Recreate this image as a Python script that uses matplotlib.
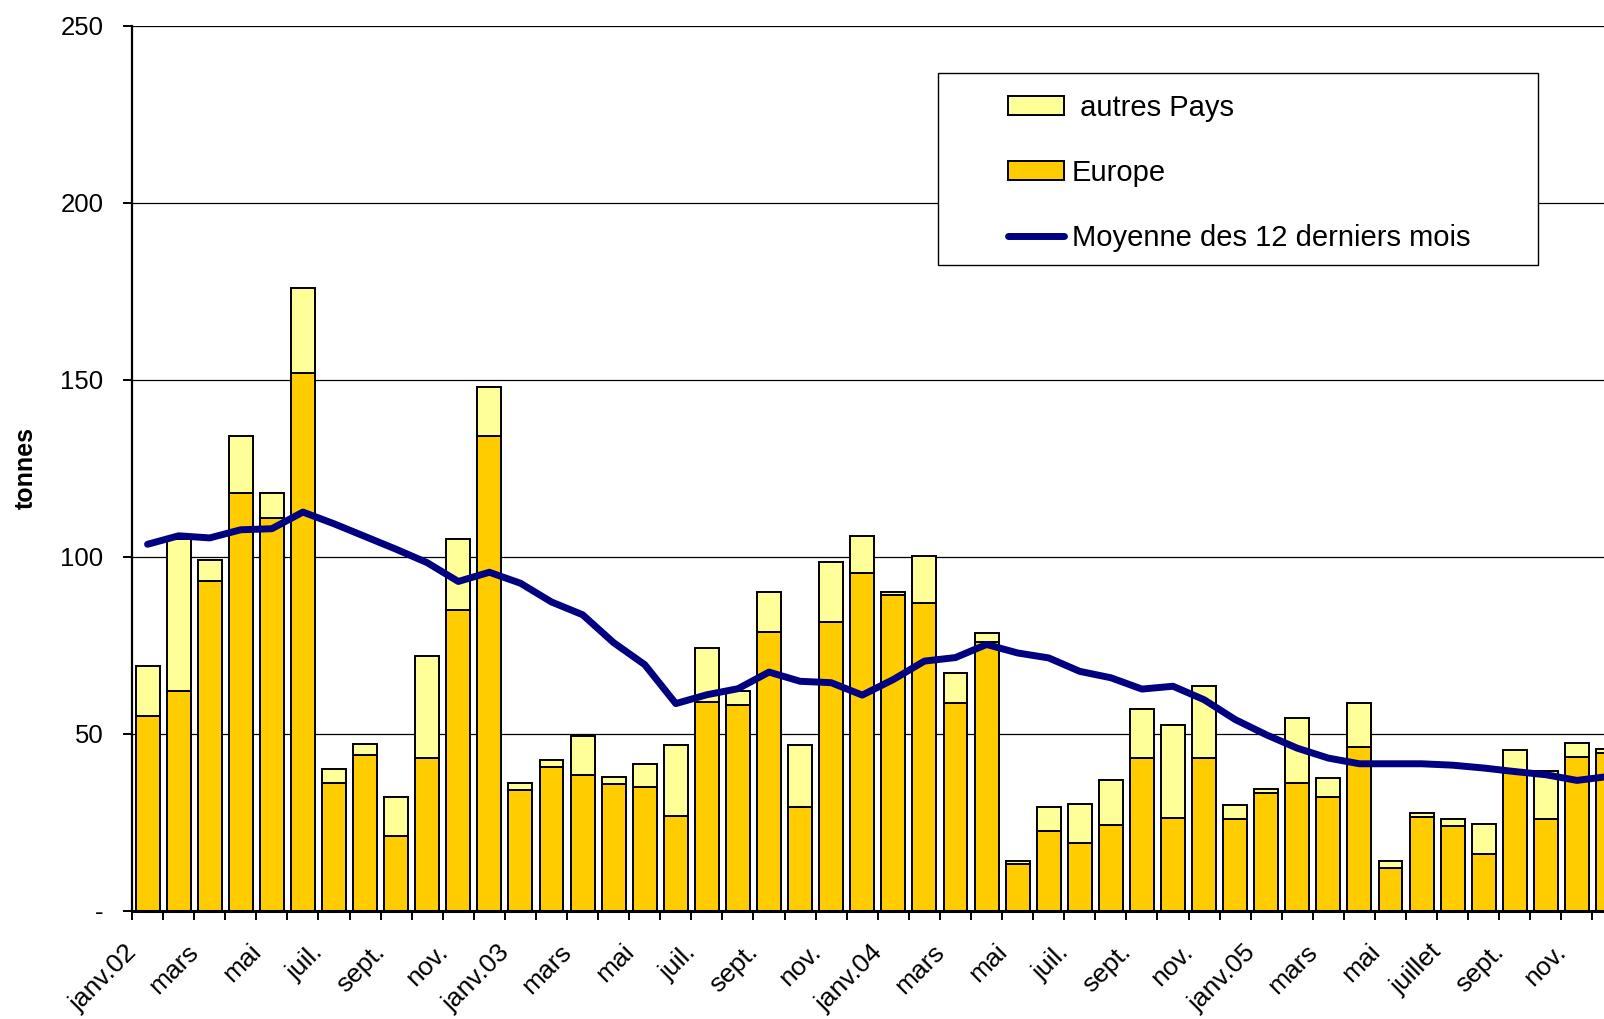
import matplotlib
matplotlib.use("Agg")
import matplotlib.pyplot as plt
from matplotlib.patches import Patch, Rectangle
from matplotlib.lines import Line2D
from matplotlib.transforms import ScaledTranslation
import numpy as np

plt.rcParams['font.family'] = ['Liberation Sans', 'DejaVu Sans']

# monthly imports, janv. 2002 -> dec. 2005 (tonnes)
europe = [55, 62, 93, 118, 111, 152, 36, 44, 21, 43, 85, 134,
          34, 40.7, 38.3, 35.7, 34.8, 26.8, 59, 58.2, 78.7, 29.3, 81.5, 95.4,
          89.3, 86.9, 58.8, 76, 13.3, 22.6, 19.1, 24.1, 43.1, 26.2, 43.1, 25.8,
          33.2, 36, 32.1, 46.1, 12, 26.4, 23.9, 15.9, 39.5, 25.9, 43.4, 44.6]
autres = [14, 43, 6, 16, 7, 24, 4, 3, 11, 29, 20, 14,
          2, 1.8, 11, 2, 6.6, 19.9, 15.2, 3.9, 11.3, 17.6, 16.9, 10.4,
          0.7, 13.2, 8.4, 2.5, 0.6, 6.6, 10.9, 12.7, 14, 26.3, 20.3, 4,
          1.2, 18.4, 5.4, 12.5, 2.1, 1.3, 1.9, 8.5, 6, 13.5, 3.9, 1.1]
moyenne = [103.5, 105.9, 105.3, 107.6, 107.9, 112.6, 109.3, 105.7, 102.1, 98.3, 93.0, 95.6,
           92.5, 87.2, 83.6, 75.7, 69.5, 58.5, 61, 62.7, 67.4, 64.8, 64.4, 60.9,
           65.3, 70.5, 71.5, 75.2, 72.8, 71.4, 67.6, 65.8, 62.6, 63.4, 59.6, 54.0,
           49.7, 45.9, 43.1, 41.5, 41.5, 41.5, 41.1, 40.3, 39.3, 38.4, 36.8, 37.9]
tick_labels = ['janv.02', 'mars', 'mai', 'juil.', 'sept.', 'nov.',
               'janv.03', 'mars', 'mai', 'juil.', 'sept.', 'nov.',
               'janv.04', 'mars', 'mai', 'juil.', 'sept.', 'nov.',
               'janv.05', 'mars', 'mai', 'juillet', 'sept.', 'nov.']
y_ticks = [0, 50, 100, 150, 200, 250]
y_labels = ['-', '50', '100', '150', '200', '250']

c_eur = '#FFCC00'
c_aut = '#FFFF99'
c_line = '#000080'

fig = plt.figure(figsize=(16.04, 10.19), dpi=100)
# plot area runs past the right edge of the picture, like the original
ax = fig.add_axes([0.0823, 0.1063, 0.9299, 0.8685])

x = np.arange(len(europe))
ax.bar(x, europe, width=0.77, color=c_eur, edgecolor='black', linewidth=1.4, zorder=2)
ax.bar(x, autres, width=0.77, bottom=europe, color=c_aut, edgecolor='black', linewidth=1.4, zorder=2)
ax.plot(x, moyenne, color=c_line, linewidth=5, solid_joinstyle='round',
        solid_capstyle='round', zorder=3)

ax.set_xlim(-0.5, len(europe) - 0.5)
ax.set_ylim(0, 250)

for v in y_ticks[1:]:
    ax.axhline(v, color='black', linewidth=0.9, zorder=1)

ax.spines['top'].set_visible(False)
ax.spines['right'].set_visible(False)
ax.spines['left'].set_linewidth(1.6)
ax.spines['bottom'].set_linewidth(2.2)

ax.set_yticks(y_ticks)
ax.set_yticklabels(y_labels, fontsize=18.5)
ax.tick_params(axis='y', direction='out', length=6.5, width=1.4, pad=14)

ax.set_xticks(x[::2])
ax.set_xticklabels(tick_labels, fontsize=19, rotation=45, ha='right', va='top')
ax.set_xticks(np.arange(len(europe) + 1) - 0.5, minor=True)
ax.tick_params(axis='x', which='major', length=0, pad=21)
ax.tick_params(axis='x', which='minor', direction='out', length=6.5, width=1.4)
shift = ScaledTranslation(-6 / 100, 0, fig.dpi_scale_trans)
for lab in ax.get_xticklabels():
    lab.set_transform(lab.get_transform() + shift)

ax.set_ylabel('tonnes', fontsize=18, fontweight='bold')
ax.yaxis.set_label_coords(-0.063, 0.5)

# legend box
box = Rectangle((0.5848, 0.7399), 0.3738, 0.1888, transform=fig.transFigure,
                facecolor='white', edgecolor='black', linewidth=1, zorder=4)
ax.add_patch(box)
handles = [Patch(facecolor=c_aut, edgecolor='black', linewidth=1.4),
           Patch(facecolor=c_eur, edgecolor='black', linewidth=1.4),
           Line2D([0], [0], color=c_line, linewidth=5, solid_capstyle='round')]
leg = ax.legend(handles, [' autres Pays', 'Europe', 'Moyenne des 12 derniers mois'],
                loc='upper left', bbox_to_anchor=(0.6282, 0.9080),
                bbox_transform=fig.transFigure, frameon=False, fontsize=21,
                borderpad=0, borderaxespad=0, handlelength=1.92, handleheight=0.62,
                handletextpad=0.27, labelspacing=1.27)
leg.set_zorder(6)

fig.savefig('out.png', dpi=100)
